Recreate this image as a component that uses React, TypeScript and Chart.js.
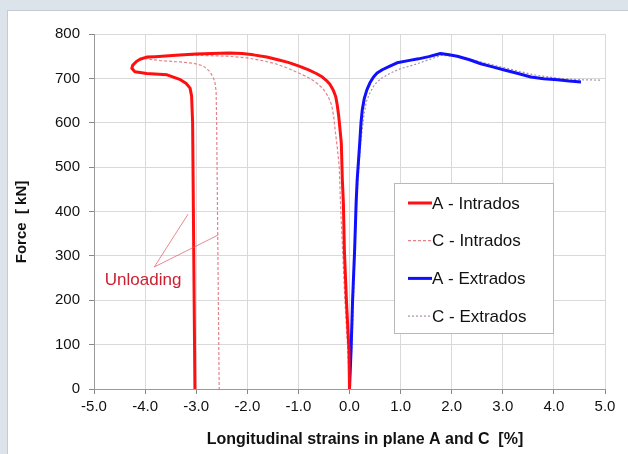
import React, { useEffect, useRef } from 'react';
import { Chart, registerables } from 'chart.js';

Chart.register(...registerables);

// ---- Data (strain [%], force [kN]) ----
const X_TICKS = [-5, -4, -3, -2, -1, 0, 1, 2, 3, 4, 5];
const Y_TICKS = [0, 100, 200, 300, 400, 500, 600, 700, 800];

const aIntradosX = [0.0, -0.01, -0.06, -0.1, -0.12, -0.14, -0.16, -0.21, -0.24, -0.27, -0.32, -0.38, -0.45, -0.53, -0.65, -0.8, -1.0, -1.2, -1.4, -1.62, -1.88, -2.1, -2.35, -2.7, -3.0, -3.4, -3.8, -3.97, -4.1, -4.17, -4.24, -4.26, -4.2, -3.97, -3.57, -3.31, -3.2, -3.12, -3.09, -3.07, -3.025];
const aIntradosY = [0, 86, 199, 312, 420, 471, 554, 614, 640, 659, 674, 686, 695, 703, 711, 719, 728, 736, 742, 748, 753, 756, 757, 756, 755, 752, 749, 748, 743, 738, 730, 723, 715, 711, 708, 697, 689, 678, 660, 600, 0];

const cIntradosX = [0.0, -0.04, -0.09, -0.13, -0.17, -0.2, -0.24, -0.28, -0.31, -0.35, -0.42, -0.52, -0.68, -0.86, -1.05, -1.25, -1.45, -1.7, -2.0, -2.4, -3.0, -3.5, -3.9, -3.97, -3.7, -3.31, -3.05, -2.86, -2.73, -2.66, -2.63, -2.61, -2.6, -2.55];
const cIntradosY = [0, 100, 200, 300, 400, 500, 545, 583, 615, 640, 660, 677, 693, 705, 715, 725, 733, 740, 746, 750, 752, 751, 748, 744, 740, 737, 734, 728, 715, 700, 689, 670, 600, 0];

const aExtradosX = [0.0, 0.03, 0.06, 0.1, 0.13, 0.15, 0.2, 0.225, 0.25, 0.29, 0.34, 0.4, 0.47, 0.54, 0.65, 0.78, 0.93, 1.15, 1.35, 1.55, 1.78, 1.95, 2.11, 2.35, 2.57, 2.8, 3.03, 3.3, 3.55, 3.8, 4.07, 4.3, 4.53];
const aExtradosY = [0, 86, 199, 312, 420, 471, 554, 600, 629, 655, 674, 690, 703, 712, 720, 727, 735, 740, 744, 749, 756, 753, 750, 742, 733, 726, 719, 711, 703, 699, 697, 694, 692];

const cExtradosX = [0.0, 0.05, 0.09, 0.13, 0.17, 0.22, 0.28, 0.33, 0.41, 0.5, 0.62, 0.8, 1.0, 1.25, 1.45, 1.7, 1.8, 2.2, 2.6, 3.1, 3.6, 4.1, 4.5, 4.92];
const cExtradosY = [0, 100, 250, 400, 480, 555, 615, 648, 670, 687, 700, 712, 722, 730, 738, 748, 752, 748, 736, 722, 708, 700, 697, 696];

const SERIES_LABELS = ['A - Intrados', 'C - Intrados', 'A - Extrados', 'C - Extrados'];

// "Unloading" annotation in data units: label anchor and leader lines
const UNLOAD_LABEL = { x: -4.04, y: 246, text: 'Unloading' };
const UNLOAD_ORIGIN = { x: -3.82, y: 275 };
const UNLOAD_TARGETS = [
  { x: -3.16, y: 394 },
  { x: -2.57, y: 347 },
];

const X_TITLE = 'Longitudinal strains in plane A and C  [%]';
const Y_TITLE = 'Force  [ kN]';

const toPoints = (xs: number[], ys: number[]) => xs.map((x, i) => ({ x, y: ys[i] }));

const FONT = '"Liberation Sans", Arial, sans-serif';

const decorPlugin = {
  id: 'decor',
  afterDraw(chart: any) {
    const { ctx, chartArea, scales } = chart;
    const xs = scales.x;
    const ys = scales.y;
    ctx.save();

    // Unloading leader lines
    ctx.strokeStyle = 'rgba(220,90,100,0.9)';
    ctx.lineWidth = 0.8;
    const ox = xs.getPixelForValue(UNLOAD_ORIGIN.x);
    const oy = ys.getPixelForValue(UNLOAD_ORIGIN.y);
    UNLOAD_TARGETS.forEach((t) => {
      ctx.beginPath();
      ctx.moveTo(ox, oy);
      ctx.lineTo(xs.getPixelForValue(t.x), ys.getPixelForValue(t.y));
      ctx.stroke();
    });
    ctx.fillStyle = '#cc2030';
    ctx.font = `17px ${FONT}`;
    ctx.textAlign = 'center';
    ctx.textBaseline = 'middle';
    ctx.fillText(UNLOAD_LABEL.text, xs.getPixelForValue(UNLOAD_LABEL.x), ys.getPixelForValue(UNLOAD_LABEL.y));

    // Legend box
    const bx = chartArea.left + 300;
    const by = chartArea.top + 149;
    const bw = 159;
    const bh = 150;
    ctx.fillStyle = '#ffffff';
    ctx.fillRect(bx, by, bw, bh);
    ctx.strokeStyle = '#b8b8b8';
    ctx.lineWidth = 1;
    ctx.strokeRect(bx + 0.5, by + 0.5, bw, bh);
    chart.data.datasets.forEach((ds: any, i: number) => {
      const y = by + 20 + i * 37.7;
      ctx.beginPath();
      ctx.strokeStyle = ds.borderColor;
      ctx.lineWidth = ds.borderWidth;
      ctx.setLineDash(ds.borderDash || []);
      ctx.moveTo(bx + 14, y);
      ctx.lineTo(bx + 38, y);
      ctx.stroke();
      ctx.setLineDash([]);
      ctx.fillStyle = '#111';
      ctx.font = `17px ${FONT}`;
      ctx.textAlign = 'left';
      ctx.textBaseline = 'middle';
      ctx.fillText(ds.label, bx + 38, y + 1);
    });

    // Axis titles
    ctx.fillStyle = '#111';
    ctx.font = `bold 16px ${FONT}`;
    ctx.textAlign = 'center';
    ctx.textBaseline = 'middle';
    ctx.fillText(X_TITLE, 365, 440);
    ctx.save();
    ctx.translate(22, 222);
    ctx.rotate(-Math.PI / 2);
    ctx.font = `bold 15px ${FONT}`;
    ctx.fillText(Y_TITLE, 0, 0);
    ctx.restore();

    ctx.restore();
  },
};

export default function App() {
  const ref = useRef<HTMLCanvasElement | null>(null);

  useEffect(() => {
    if (!ref.current) return;
    const gridColor = '#d9d9d9';
    const chart = new Chart(ref.current, {
      type: 'scatter',
      data: {
        datasets: [
          {
            label: SERIES_LABELS[0],
            data: toPoints(aIntradosX, aIntradosY),
            showLine: true,
            borderColor: '#ff1010',
            backgroundColor: '#ff1010',
            borderWidth: 3,
            pointRadius: 0,
            tension: 0,
            borderJoinStyle: 'round',
            order: 1,
          },
          {
            label: SERIES_LABELS[1],
            data: toPoints(cIntradosX, cIntradosY),
            showLine: true,
            borderColor: '#e8808a',
            backgroundColor: '#e8808a',
            borderWidth: 1.2,
            borderDash: [3, 2],
            pointRadius: 0,
            tension: 0,
            order: 2,
          },
          {
            label: SERIES_LABELS[2],
            data: toPoints(aExtradosX, aExtradosY),
            showLine: true,
            borderColor: '#1010ff',
            backgroundColor: '#1010ff',
            borderWidth: 3,
            pointRadius: 0,
            tension: 0,
            borderJoinStyle: 'round',
            order: 3,
          },
          {
            label: SERIES_LABELS[3],
            data: toPoints(cExtradosX, cExtradosY),
            showLine: true,
            borderColor: '#a890a8',
            backgroundColor: '#a890a8',
            borderWidth: 1.2,
            borderDash: [2, 2],
            pointRadius: 0,
            tension: 0,
            order: 4,
          },
        ],
      },
      options: {
        responsive: false,
        animation: false,
        layout: { padding: { left: 0, top: 34, right: 23, bottom: 0 } },
        plugins: {
          legend: { display: false },
          tooltip: { enabled: false },
        },
        scales: {
          x: {
            type: 'linear',
            min: X_TICKS[0],
            max: X_TICKS[X_TICKS.length - 1],
            afterBuildTicks: (s: any) => {
              s.ticks = X_TICKS.map((v) => ({ value: v }));
            },
            afterFit: (s: any) => {
              s.height = 65;
            },
            ticks: {
              callback: (v: any) => Number(v).toFixed(1),
              font: { family: FONT, size: 15 },
              color: '#111',
              padding: 4,
              maxRotation: 0,
            },
            grid: { color: gridColor, tickColor: '#888', tickLength: 5, lineWidth: 1 },
            border: { color: '#999', width: 1 },
          },
          y: {
            type: 'linear',
            min: Y_TICKS[0],
            max: Y_TICKS[Y_TICKS.length - 1],
            afterBuildTicks: (s: any) => {
              s.ticks = Y_TICKS.map((v) => ({ value: v }));
            },
            afterFit: (s: any) => {
              s.width = 94;
            },
            ticks: {
              callback: (v: any) => String(v),
              font: { family: FONT, size: 15 },
              color: '#111',
              padding: 9,
            },
            grid: { color: gridColor, tickColor: '#888', tickLength: 5, lineWidth: 1 },
            border: { color: '#999', width: 1 },
          },
        },
      },
      plugins: [decorPlugin],
    });
    return () => chart.destroy();
  }, []);

  return (
    <div style={{ position: 'absolute', left: 0, top: 0, width: 628, height: 454, background: '#dce3ea', overflow: 'hidden' }}>
      <div
        style={{
          position: 'absolute',
          left: 7,
          top: 10,
          width: 621,
          height: 444,
          background: '#ffffff',
          borderLeft: '1px solid #c4cbd4',
          borderTop: '1px solid #c4cbd4',
          boxSizing: 'border-box',
        }}
      />
      <canvas ref={ref} width={628} height={454} style={{ position: 'absolute', left: 0, top: 0, width: 628, height: 454 }} />
    </div>
  );
}
